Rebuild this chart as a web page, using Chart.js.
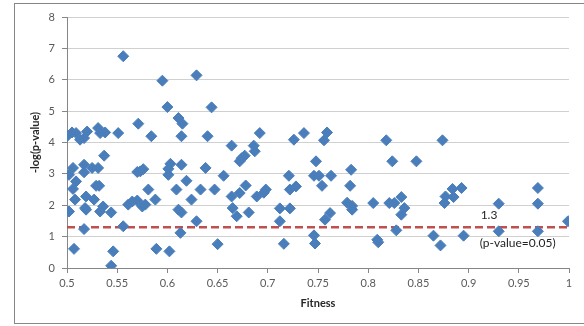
<!DOCTYPE html>
<html>
<head>
<meta charset="utf-8">
<script src="https://cdn.jsdelivr.net/npm/chart.js@4"></script>
<style>
  html, body { margin: 0; padding: 0; background: #fff; }
  #wrap { position: relative; width: 584px; height: 326px; }
  #frame { position: absolute; left: 14px; top: 3px; width: 580px; height: 319px;
           border: 1px solid #868686; border-right: none; pointer-events: none; }
  canvas { position: absolute; left: 0; top: 0; }
</style>
</head>
<body>
<div id="wrap">
  <div id="frame"></div>
  <canvas id="chart" width="584" height="326"></canvas>
</div>
<script>
// tick labels
const xTicks = ['0.5', '0.55', '0.6', '0.65', '0.7', '0.75', '0.8', '0.85', '0.9', '0.95', '1'];
const yTicks = ['0', '1', '2', '3', '4', '5', '6', '7', '8'];

// points
const fitness = [
  0.500, 0.502, 0.502, 0.505, 0.506, 0.506, 0.507, 0.508, 0.509, 0.509,
  0.513, 0.517, 0.517, 0.517, 0.517, 0.519, 0.518, 0.519, 0.520, 0.525,
  0.527, 0.529, 0.531, 0.531, 0.532, 0.533, 0.533, 0.536, 0.537, 0.538,
  0.544, 0.544, 0.546, 0.551, 0.556, 0.556, 0.561, 0.565, 0.570, 0.570,
  0.571, 0.573, 0.575, 0.576, 0.578, 0.581, 0.584, 0.588, 0.589, 0.595,
  0.600, 0.601, 0.601, 0.602, 0.603, 0.609, 0.611, 0.611, 0.613, 0.614,
  0.614, 0.614, 0.615, 0.619, 0.624, 0.629, 0.629, 0.633, 0.638, 0.640,
  0.644, 0.647, 0.650, 0.656, 0.664, 0.664, 0.665, 0.669, 0.672, 0.672,
  0.674, 0.677, 0.678, 0.681, 0.686, 0.687, 0.689, 0.692, 0.696, 0.698,
  0.712, 0.712, 0.716, 0.721, 0.722, 0.722, 0.726, 0.728, 0.736, 0.746,
  0.746, 0.747, 0.748, 0.751, 0.754, 0.756, 0.757, 0.759, 0.762, 0.763,
  0.779, 0.783, 0.782, 0.784, 0.784, 0.805, 0.809, 0.810, 0.818, 0.821,
  0.824, 0.826, 0.828, 0.833, 0.836, 0.833, 0.848, 0.865, 0.872, 0.874,
  0.876, 0.877, 0.884, 0.885, 0.893, 0.895, 0.930, 0.930, 0.969, 0.969,
  0.969, 0.999
];
const logP = [
  4.20, 1.80, 2.97, 4.32, 3.19, 2.52, 0.61, 2.18, 4.30, 2.76,
  4.09, 4.14, 3.29, 3.05, 1.24, 2.28, 1.91, 1.86, 4.35, 3.19,
  2.18, 2.62, 4.46, 3.19, 2.62, 4.30, 1.80, 1.96, 3.58, 4.32,
  1.77, 0.07, 0.53, 4.30, 6.75, 1.33, 2.02, 2.12, 2.15, 3.06,
  4.60, 3.08, 1.96, 3.15, 2.02, 2.50, 4.20, 2.18, 0.61, 5.97,
  5.13, 2.97, 3.16, 0.53, 3.32, 2.50, 4.78, 1.86, 1.12, 1.77,
  3.29, 4.20, 4.60, 2.78, 2.18, 6.14, 1.49, 2.50, 3.19, 4.20,
  5.12, 2.50, 0.76, 2.94, 3.90, 2.28, 1.91, 1.65, 2.39, 3.40,
  3.50, 3.58, 2.63, 1.77, 3.90, 3.72, 2.28, 4.30, 2.40, 2.50,
  1.90, 1.49, 0.77, 2.94, 2.50, 1.90, 4.09, 2.60, 4.30, 2.94,
  1.04, 0.78, 3.40, 2.94, 2.62, 4.07, 1.54, 4.32, 1.75, 2.94,
  2.08, 3.13, 2.62, 1.98, 1.86, 2.07, 0.90, 0.82, 4.07, 2.07,
  3.40, 2.07, 1.20, 2.26, 1.91, 1.70, 3.40, 1.03, 0.72, 4.07,
  2.07, 2.28, 2.52, 2.26, 2.55, 1.03, 2.05, 1.17, 2.55, 2.05,
  1.17, 1.49
];

// significance threshold, -log10(0.05)
const threshold = 1.3;
const thresholdRange = [0.5, 1];
const thresholdLabel = '1.3';
const thresholdNote = '(p-value=0.05)';

const font = 'Lato, "Open Sans", sans-serif';
const axisGray = '#868686';

const thresholdText = {
  id: 'thresholdText',
  afterDatasetsDraw(chart) {
    const { ctx, scales } = chart;
    const x = scales.x.getPixelForValue(0.912);
    const y = scales.y.getPixelForValue(threshold);
    ctx.save();
    ctx.fillStyle = '#1f1f1f';
    ctx.font = '12px ' + font;
    ctx.textAlign = 'left';
    ctx.textBaseline = 'middle';
    ctx.fillText(thresholdLabel, x, y - 12);
    ctx.fillText(thresholdNote, x - 1, y + 16);
    ctx.restore();
  }
};

new Chart(document.getElementById('chart'), {
  data: {
    datasets: [
      {
        type: 'scatter',
        data: fitness.map((f, i) => ({ x: f, y: logP[i] })),
        pointStyle: 'rectRot',
        pointRadius: 5.5,
        backgroundColor: '#4a7ebb',
        borderColor: '#4a7ebb',
        borderWidth: 1
      },
      {
        type: 'line',
        data: thresholdRange.map(x => ({ x: x, y: threshold })),
        borderColor: '#c0504d',
        borderWidth: 2.5,
        borderDash: [8, 4],
        pointRadius: 0,
        fill: false
      }
    ]
  },
  options: {
    responsive: false,
    animation: false,
    layout: { padding: { left: 14, right: 15, top: 17, bottom: 3 } },
    plugins: { legend: { display: false }, tooltip: { enabled: false } },
    scales: {
      x: {
        type: 'linear',
        min: 0.5,
        max: 1,
        afterFit: s => { s.height = 55; },
        ticks: {
          stepSize: 0.05,
          callback: (v, i) => xTicks[i],
          color: '#595959',
          font: { family: font, size: 11 },
          padding: 4,
          maxRotation: 0
        },
        grid: { drawOnChartArea: false, tickLength: 5, tickColor: axisGray },
        border: { color: axisGray },
        title: {
          display: true,
          text: 'Fitness',
          color: '#262626',
          font: { family: font, size: 11, weight: 'bold' },
          padding: { top: 0, bottom: 13 }
        }
      },
      y: {
        min: 0,
        max: 8,
        afterFit: s => { s.width = 53; },
        ticks: {
          stepSize: 1,
          callback: (v, i) => yTicks[i],
          color: '#595959',
          font: { family: font, size: 11 },
          padding: 7
        },
        grid: { color: '#d0d0d0', tickLength: 5, tickColor: axisGray },
        border: { color: axisGray },
        title: {
          display: true,
          text: '-log(p-value)',
          color: '#262626',
          font: { family: font, size: 11, weight: 'bold' },
          padding: { top: 15, bottom: 0 }
        }
      }
    }
  },
  plugins: [thresholdText]
});
</script>
</body>
</html>
